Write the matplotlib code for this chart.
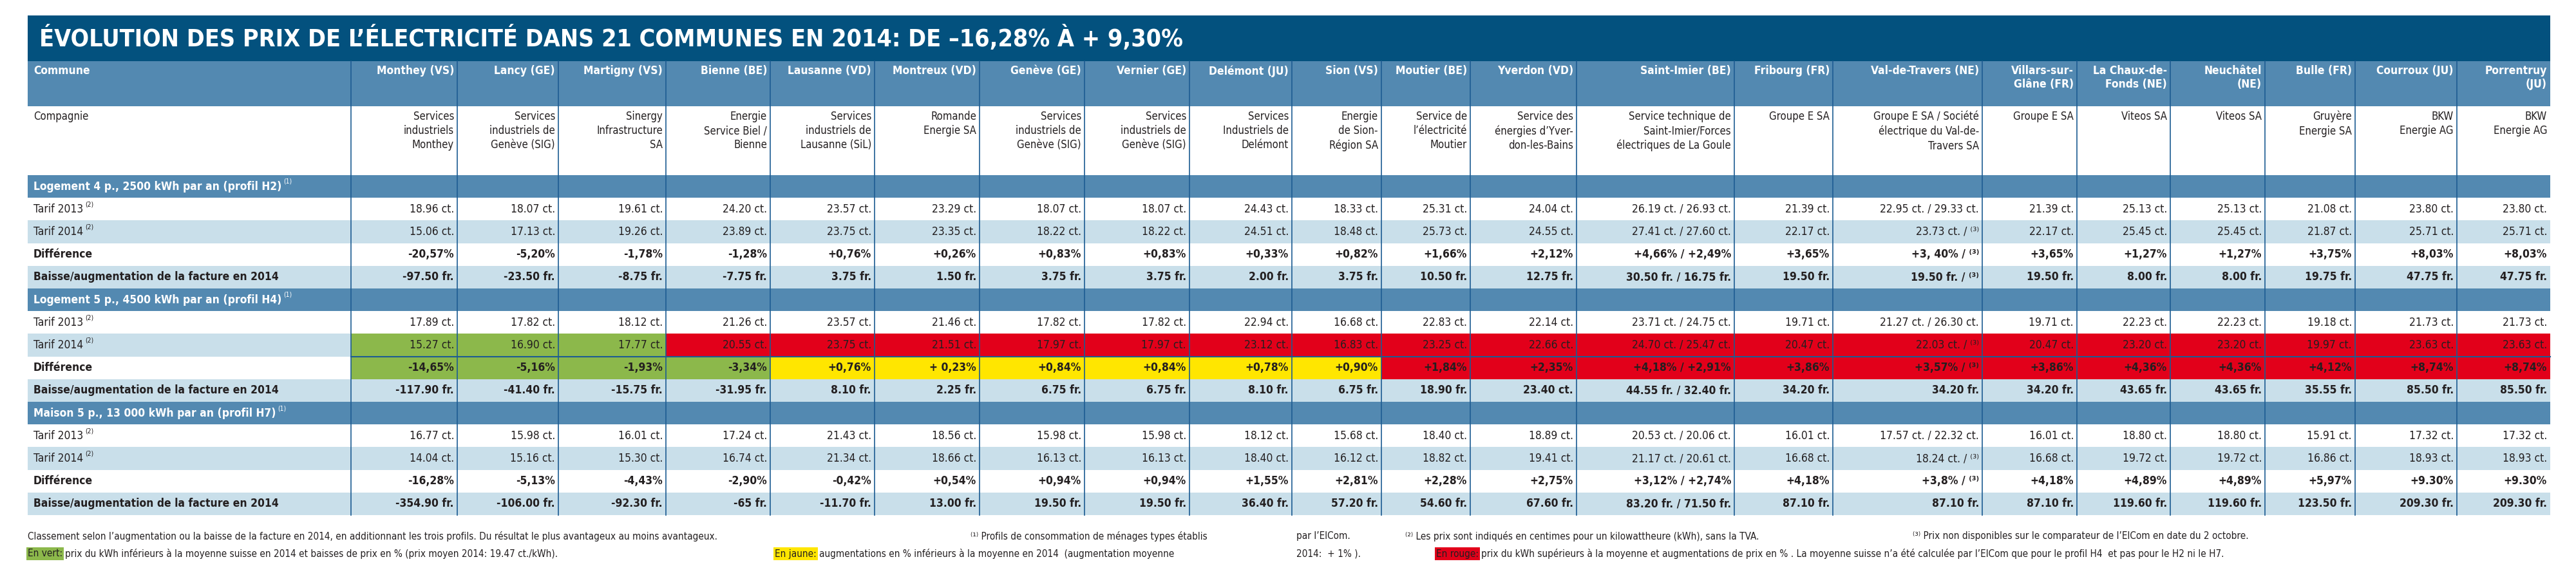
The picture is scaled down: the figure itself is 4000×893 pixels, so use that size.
"""Tableau: évolution des prix de l'électricité dans 21 communes en 2014."""

import matplotlib
matplotlib.use("Agg")
import matplotlib.pyplot as plt
from matplotlib.patches import Rectangle

plt.rcParams["font.family"] = ["DejaVu Sans"]
plt.rcParams["font.stretch"] = "condensed"

TITLE = "ÉVOLUTION DES PRIX DE L’ÉLECTRICITÉ DANS 21 COMMUNES EN 2014: DE –16,28% À + 9,30%"

COMMUNES = ["Monthey (VS)", "Lancy (GE)", "Martigny (VS)", "Bienne (BE)", "Lausanne (VD)",
            "Montreux (VD)", "Genève (GE)", "Vernier (GE)", "Delémont (JU)", "Sion (VS)",
            "Moutier (BE)", "Yverdon (VD)", "Saint-Imier (BE)", "Fribourg (FR)",
            "Val-de-Travers (NE)", "Villars-sur-\nGlâne (FR)", "La Chaux-de-\nFonds (NE)",
            "Neuchâtel\n(NE)", "Bulle (FR)", "Courroux (JU)", "Porrentruy\n(JU)"]

COMPAGNIES = ["Services\nindustriels\nMonthey", "Services\nindustriels de\nGenève (SIG)",
              "Sinergy\nInfrastructure\nSA", "Energie\nService Biel /\nBienne",
              "Services\nindustriels de\nLausanne (SiL)", "Romande\nEnergie SA",
              "Services\nindustriels de\nGenève (SIG)", "Services\nindustriels de\nGenève (SIG)",
              "Services\nIndustriels de\nDelémont", "Energie\nde Sion-\nRégion SA",
              "Service de\nl’électricité\nMoutier", "Service des\nénergies d’Yver-\ndon-les-Bains",
              "Service technique de\nSaint-Imier/Forces\nélectriques de La Goule", "Groupe E SA",
              "Groupe E SA / Société\nélectrique du Val-de-\nTravers SA", "Groupe E SA",
              "Viteos SA", "Viteos SA", "Gruyère\nEnergie SA", "BKW\nEnergie AG", "BKW\nEnergie AG"]

SECTIONS = ["Logement 4 p., 2500 kWh par an (profil H2)",
            "Logement 5 p., 4500 kWh par an (profil H4)",
            "Maison 5 p., 13 000 kWh par an (profil H7)"]

H2_T13 = ["18.96 ct.", "18.07 ct.", "19.61 ct.", "24.20 ct.", "23.57 ct.", "23.29 ct.", "18.07 ct.",
          "18.07 ct.", "24.43 ct.", "18.33 ct.", "25.31 ct.", "24.04 ct.", "26.19 ct. / 26.93 ct.",
          "21.39 ct.", "22.95 ct. / 29.33 ct.", "21.39 ct.", "25.13 ct.", "25.13 ct.", "21.08 ct.",
          "23.80 ct.", "23.80 ct."]
H2_T14 = ["15.06 ct.", "17.13 ct.", "19.26 ct.", "23.89 ct.", "23.75 ct.", "23.35 ct.", "18.22 ct.",
          "18.22 ct.", "24.51 ct.", "18.48 ct.", "25.73 ct.", "24.55 ct.", "27.41 ct. / 27.60 ct.",
          "22.17 ct.", "23.73 ct. / ⁽³⁾", "22.17 ct.", "25.45 ct.", "25.45 ct.", "21.87 ct.",
          "25.71 ct.", "25.71 ct."]
H2_DIFF = ["-20,57%", "-5,20%", "-1,78%", "-1,28%", "+0,76%", "+0,26%", "+0,83%", "+0,83%", "+0,33%",
           "+0,82%", "+1,66%", "+2,12%", "+4,66% / +2,49%", "+3,65%", "+3, 40% / ⁽³⁾", "+3,65%",
           "+1,27%", "+1,27%", "+3,75%", "+8,03%", "+8,03%"]
H2_BILL = ["-97.50 fr.", "-23.50 fr.", "-8.75 fr.", "-7.75 fr.", "3.75 fr.", "1.50 fr.", "3.75 fr.",
           "3.75 fr.", "2.00 fr.", "3.75 fr.", "10.50 fr.", "12.75 fr.", "30.50 fr. / 16.75 fr.",
           "19.50 fr.", "19.50 fr. / ⁽³⁾", "19.50 fr.", "8.00 fr.", "8.00 fr.", "19.75 fr.",
           "47.75 fr.", "47.75 fr."]

H4_T13 = ["17.89 ct.", "17.82 ct.", "18.12 ct.", "21.26 ct.", "23.57 ct.", "21.46 ct.", "17.82 ct.",
          "17.82 ct.", "22.94 ct.", "16.68 ct.", "22.83 ct.", "22.14 ct.", "23.71 ct. / 24.75 ct.",
          "19.71 ct.", "21.27 ct. / 26.30 ct.", "19.71 ct.", "22.23 ct.", "22.23 ct.", "19.18 ct.",
          "21.73 ct.", "21.73 ct."]
H4_T14 = ["15.27 ct.", "16.90 ct.", "17.77 ct.", "20.55 ct.", "23.75 ct.", "21.51 ct.", "17.97 ct.",
          "17.97 ct.", "23.12 ct.", "16.83 ct.", "23.25 ct.", "22.66 ct.", "24.70 ct. / 25.47 ct.",
          "20.47 ct.", "22.03 ct. / ⁽³⁾", "20.47 ct.", "23.20 ct.", "23.20 ct.", "19.97 ct.",
          "23.63 ct.", "23.63 ct."]
H4_DIFF = ["-14,65%", "-5,16%", "-1,93%", "-3,34%", "+0,76%", "+ 0,23%", "+0,84%", "+0,84%", "+0,78%",
           "+0,90%", "+1,84%", "+2,35%", "+4,18% / +2,91%", "+3,86%", "+3,57% / ⁽³⁾", "+3,86%",
           "+4,36%", "+4,36%", "+4,12%", "+8,74%", "+8,74%"]
H4_BILL = ["-117.90 fr.", "-41.40 fr.", "-15.75 fr.", "-31.95 fr.", "8.10 fr.", "2.25 fr.", "6.75 fr.",
           "6.75 fr.", "8.10 fr.", "6.75 fr.", "18.90 fr.", "23.40 ct.", "44.55 fr. / 32.40 fr.",
           "34.20 fr.", "34.20 fr.", "34.20 fr.", "43.65 fr.", "43.65 fr.", "35.55 fr.",
           "85.50 fr.", "85.50 fr."]
# H4 highlight classes: g = vert, y = jaune, r = rouge
H4_T14_CLASS = list("gggrrrrrrrrrrrrrrrrrr")
H4_DIFF_CLASS = list("ggggyyyyyyrrrrrrrrrrr")

H7_T13 = ["16.77 ct.", "15.98 ct.", "16.01 ct.", "17.24 ct.", "21.43 ct.", "18.56 ct.", "15.98 ct.",
          "15.98 ct.", "18.12 ct.", "15.68 ct.", "18.40 ct.", "18.89 ct.", "20.53 ct. / 20.06 ct.",
          "16.01 ct.", "17.57 ct. / 22.32 ct.", "16.01 ct.", "18.80 ct.", "18.80 ct.", "15.91 ct.",
          "17.32 ct.", "17.32 ct."]
H7_T14 = ["14.04 ct.", "15.16 ct.", "15.30 ct.", "16.74 ct.", "21.34 ct.", "18.66 ct.", "16.13 ct.",
          "16.13 ct.", "18.40 ct.", "16.12 ct.", "18.82 ct.", "19.41 ct.", "21.17 ct. / 20.61 ct.",
          "16.68 ct.", "18.24 ct. / ⁽³⁾", "16.68 ct.", "19.72 ct.", "19.72 ct.", "16.86 ct.",
          "18.93 ct.", "18.93 ct."]
H7_DIFF = ["-16,28%", "-5,13%", "-4,43%", "-2,90%", "-0,42%", "+0,54%", "+0,94%", "+0,94%", "+1,55%",
           "+2,81%", "+2,28%", "+2,75%", "+3,12% / +2,74%", "+4,18%", "+3,8% / ⁽³⁾", "+4,18%",
           "+4,89%", "+4,89%", "+5,97%", "+9.30%", "+9.30%"]
H7_BILL = ["-354.90 fr.", "-106.00 fr.", "-92.30 fr.", "-65 fr.", "-11.70 fr.", "13.00 fr.", "19.50 fr.",
           "19.50 fr.", "36.40 fr.", "57.20 fr.", "54.60 fr.", "67.60 fr.", "83.20 fr. / 71.50 fr.",
           "87.10 fr.", "87.10 fr.", "87.10 fr.", "119.60 fr.", "119.60 fr.", "123.50 fr.",
           "209.30 fr.", "209.30 fr."]

ROW_LABELS = ["Tarif 2013", "Tarif 2014", "Différence", "Baisse/augmentation de la facture en 2014"]

# layout (pixels)
COL_EDGES = [43, 545, 710, 867, 1034, 1196, 1358, 1521, 1684, 1847, 2006, 2145, 2283, 2448,
             2693, 2846, 3078, 3225, 3370, 3517, 3657, 3815, 3960]
ROW_H = 35.2
DARK = "#03517e"
MID = "#5389b1"
LIGHT = "#c9dfea"
LINE = "#1d5c92"
HL = {"g": "#8cb84b", "y": "#ffe600", "r": "#e2001a"}
TXT = "#231f20"
FS = 12.5
HFS = 12.5

fig = plt.figure(figsize=(40, 8.93), dpi=100)
ax = fig.add_axes([0, 0, 1, 1])
ax.set_xlim(0, 4000)
ax.set_ylim(893, 0)
ax.axis("off")
x0, x1 = COL_EDGES[0], COL_EDGES[-1]
renderer = fig.canvas.get_renderer()


def band(y, h, color, xa=x0, xb=x1):
    ax.add_patch(Rectangle((xa, y), xb - xa, h, color=color, lw=0, zorder=1))


def right_of(t):
    bb = t.get_window_extent(renderer)
    return ax.transData.inverted().transform((bb.x1, bb.y0))[0]


def sup(t, y, text, color):
    ax.text(right_of(t) + 3, y, text, color=color, fontsize=7.5, va="center")


# title
band(24, 71, DARK)
ax.text(x0 + 18, 60, TITLE, color="white", fontsize=27, fontweight="bold", va="center", ha="left")

# commune header
band(95, 70, MID)
ax.text(x0 + 9, 101, "Commune", color="white", fontsize=HFS, fontweight="bold", va="top")
for i, name in enumerate(COMMUNES):
    ax.text(COL_EDGES[i + 2] - 5, 101, name, color="white", fontsize=HFS, fontweight="bold",
            va="top", ha="right", linespacing=1.25)

# compagnie row
ax.text(x0 + 9, 172, "Compagnie", color=TXT, fontsize=12, va="top")
for i, comp in enumerate(COMPAGNIES):
    ax.text(COL_EDGES[i + 2] - 5, 172, comp, color=TXT, fontsize=12, va="top", ha="right",
            linespacing=1.3)

blocks = [
    (H2_T13, H2_T14, H2_DIFF, H2_BILL),
    (H4_T13, H4_T14, H4_DIFF, H4_BILL),
    (H7_T13, H7_T14, H7_DIFF, H7_BILL),
]
y = 272.0
for b, (title, rows) in enumerate(zip(SECTIONS, blocks)):
    band(y, ROW_H, MID)
    t = ax.text(x0 + 9, y + ROW_H / 2, title, color="white", fontsize=HFS, fontweight="bold",
                va="center")
    sup(t, y + 10, "(1)", "white")
    y += ROW_H
    for r, (label, vals) in enumerate(zip(ROW_LABELS, rows)):
        band(y, ROW_H, "white" if r % 2 == 0 else LIGHT)
        bold = "bold" if r >= 2 else "normal"
        if b == 1 and r in (1, 2):
            classes = H4_T14_CLASS if r == 1 else H4_DIFF_CLASS
            for i, c in enumerate(classes):
                band(y, ROW_H, HL[c], COL_EDGES[i + 1], COL_EDGES[i + 2])
        t = ax.text(x0 + 9, y + ROW_H / 2, label, color=TXT, fontsize=FS, fontweight=bold,
                    va="center")
        if r < 2:
            sup(t, y + 10, "(2)", TXT)
        for i, v in enumerate(vals):
            ax.text(COL_EDGES[i + 2] - 5, y + ROW_H / 2, v, color=TXT, fontsize=FS,
                    fontweight=bold, va="center", ha="right")
        y += ROW_H
    if b == 1:
        ax.plot([COL_EDGES[1], x1], [y - 2 * ROW_H, y - 2 * ROW_H], color=LINE, lw=1.5, zorder=2)

# column lines
for xe in COL_EDGES[1:-1]:
    ax.plot([xe, xe], [95, y], color=LINE, lw=1.2, zorder=2)

# footnotes
fs = 11
ax.text(x0, 833, "Classement selon l’augmentation ou la baisse de la facture en 2014, en additionnant "
        "les trois profils. Du résultat le plus avantageux au moins avantageux.", fontsize=fs,
        color=TXT, va="center")
ax.text(1507, 833, "⁽¹⁾ Profils de consommation de ménages types établis", fontsize=fs, color=TXT,
        va="center")
ax.text(2013, 833, "par l’ElCom.", fontsize=fs, color=TXT, va="center")
ax.text(2182, 833, "⁽²⁾ Les prix sont indiqués en centimes pour un kilowattheure (kWh), sans la TVA.",
        fontsize=fs, color=TXT, va="center")
ax.text(2970, 833, "⁽³⁾ Prix non disponibles sur le comparateur de l’ElCom en date du 2 octobre.",
        fontsize=fs, color=TXT, va="center")


def keyed(x, key, color, rest):
    t = ax.text(x, 860, key, fontsize=fs, color=TXT, va="center",
                bbox=dict(facecolor=color, edgecolor="none", pad=1.5))
    ax.text(right_of(t) + 4, 860, rest, fontsize=fs, color=TXT, va="center")


keyed(x0, "En vert:", HL["g"], "prix du kWh inférieurs à la moyenne suisse en 2014 et baisses de "
      "prix en % (prix moyen 2014: 19.47 ct./kWh).")
keyed(1203, "En jaune:", HL["y"], "augmentations en % inférieurs à la moyenne en 2014  "
      "(augmentation moyenne")
ax.text(2013, 860, "2014:  + 1% ).", fontsize=fs, color=TXT, va="center")
keyed(2230, "En rouge:", HL["r"], "prix du kWh supérieurs à la moyenne et augmentations de prix en % . "
      "La moyenne suisse n’a été calculée par l’ElCom que pour le profil H4  et pas pour le H2 ni le H7.")

fig.savefig("out.png", dpi=100)
